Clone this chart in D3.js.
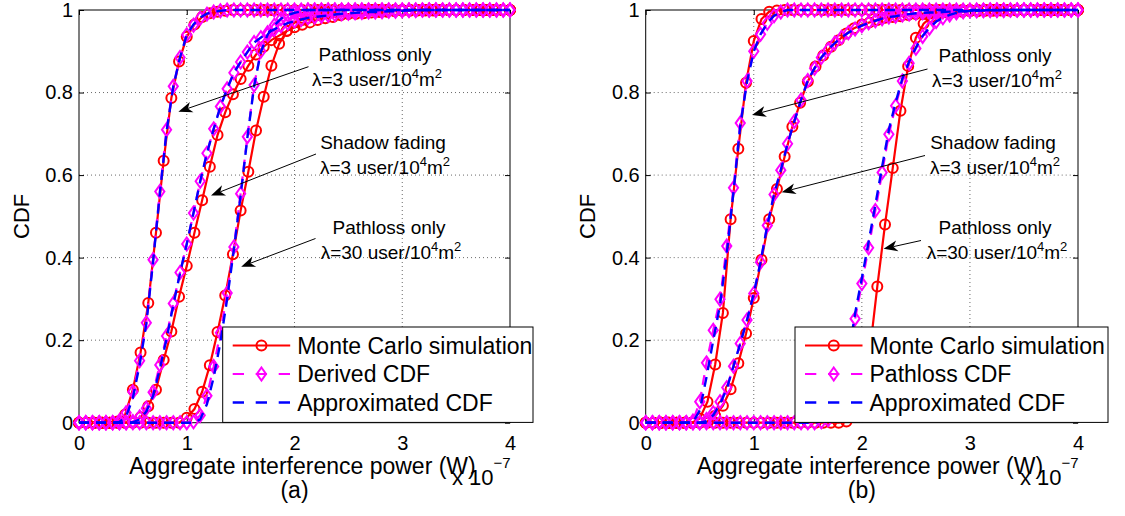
<!DOCTYPE html>
<html>
<head>
<meta charset="utf-8">
<script src="https://cdn.jsdelivr.net/npm/d3@7"></script>
<style>
  html, body { margin: 0; padding: 0; background: #fff; }
  svg { display: block; font-family: "Liberation Sans", Arial, Helvetica, sans-serif; }
</style>
</head>
<body>
<svg id="fig" width="1125" height="516"></svg>
<script>
// ---- sample grids (aggregate interference power, units of 1e-7 W) ----
const xSim = [0,0.0714,0.1429,0.2143,0.2857,0.3571,0.4286,0.5,0.5714,0.6429,0.7143,0.7857,0.8571,0.9286,
  1,1.0714,1.1429,1.2143,1.2857,1.3571,1.4286,1.5,1.5714,1.6429,1.7143,1.7857,1.8571,1.9286,
  2,2.0714,2.1429,2.2143,2.2857,2.3571,2.4286,2.5,2.5714,2.6429,2.7143,2.7857,2.8571,2.9286,
  3,3.0714,3.1429,3.2143,3.2857,3.3571,3.4286,3.5,3.5714,3.6429,3.7143,3.7857,3.8571,3.9286,4];
const xCdf = [0,0.0625,0.125,0.1875,0.25,0.3125,0.375,0.4375,0.5,0.5625,0.625,0.6875,0.75,0.8125,0.875,0.9375,
  1,1.0625,1.125,1.1875,1.25,1.3125,1.375,1.4375,1.5,1.5625,1.625,1.6875,1.75,1.8125,1.875,1.9375,
  2,2.0625,2.125,2.1875,2.25,2.3125,2.375,2.4375,2.5,2.5625,2.625,2.6875,2.75,2.8125,2.875,2.9375,
  3,3.0625,3.125,3.1875,3.25,3.3125,3.375,3.4375,3.5,3.5625,3.625,3.6875,3.75,3.8125,3.875,3.9375,4];

// ---- panel (a): Monte Carlo simulation (on xSim) ----
const aSimPath3 = [0,0,0,0,0,0.003,0.02,0.08,0.17,0.29,0.46,0.635,0.787,0.875,0.935,0.965,0.983,0.992,0.996,0.998,
  1,1,1,1,1,1,1,1,1,1,1,1,1,1,1,1,1,1,1,1,1,1,1,1,1,1,1,1,1,1,1,1,1,1,1,1,1];
const aSimShadow3 = [0,0,0,0,0,0,0,0.002,0.013,0.04,0.08,0.152,0.221,0.305,0.38,0.46,0.539,0.62,0.697,0.752,
  0.796,0.833,0.865,0.892,0.911,0.927,0.938,0.949,0.958,0.964,0.97,0.976,0.98,0.983,0.987,0.99,0.991,0.992,
  0.994,0.995,0.996,0.997,0.998,0.998,0.999,0.999,0.999,1,1,1,1,1,1,1,1,1,1];
const aSimPath30 = [0,0,0,0,0,0,0,0,0,0,0,0,0,0,0.012,0.033,0.075,0.139,0.22,0.308,0.408,0.514,0.608,0.708,
  0.79,0.865,0.918,0.95,0.97,0.981,0.988,0.993,0.996,0.999,1,1,1,1,1,1,1,1,1,1,1,1,1,1,1,1,1,1,1,1,1,1,1];

// ---- panel (a): derived CDF (on xCdf) ----
const aDerPath3 = [0,0,0,0,0,0,0.005,0.024,0.075,0.15,0.242,0.395,0.56,0.71,0.815,0.885,0.94,0.963,0.98,0.99,
  0.995,0.998,1,1,1,1,1,1,1,1,1,1,1,1,1,1,1,1,1,1,1,1,1,1,1,1,1,1,1,1,1,1,1,1,1,1,1,1,1,1,1,1,1,1,1];
const aDerShadow3 = [0,0,0,0,0,0,0,0,0.003,0.014,0.035,0.074,0.14,0.21,0.289,0.364,0.433,0.508,0.585,0.653,
  0.712,0.766,0.809,0.848,0.874,0.898,0.921,0.933,0.945,0.953,0.962,0.968,0.973,0.977,0.981,0.983,0.985,
  0.987,0.989,0.991,0.992,0.993,0.994,0.995,0.995,0.996,0.997,0.997,0.998,0.999,0.999,
  1,1,1,1,1,1,1,1,1,1,1,1,1,1];
const aDerPath30 = [0,0,0,0,0,0,0,0,0,0,0,0,0,0,0,0,0,0.002,0.018,0.065,0.136,0.218,0.314,0.426,0.555,
  0.693,0.818,0.9,0.94,0.963,0.979,0.988,0.993,0.997,1,1,1,1,1,1,1,1,1,1,1,1,1,1,1,1,1,1,1,1,1,1,1,1,1,1,1,1,1,1,1];

// ---- panel (a): approximated CDF (on xCdf) ----
const aApxPath3 = [0,0,0,0,0,0,0.002,0.015,0.06,0.14,0.24,0.39,0.555,0.705,0.815,0.885,0.94,0.965,0.982,0.991,
  0.996,0.998,1,1,1,1,1,1,1,1,1,1,1,1,1,1,1,1,1,1,1,1,1,1,1,1,1,1,1,1,1,1,1,1,1,1,1,1,1,1,1,1,1,1,1];
const aApxShadow3 = [0,0,0,0,0,0,0,0,0.001,0.008,0.027,0.065,0.13,0.203,0.285,0.362,0.433,0.508,0.585,0.653,
  0.712,0.766,0.809,0.848,0.874,0.898,0.921,0.933,0.945,0.953,0.962,0.968,0.973,0.977,0.981,0.983,0.985,
  0.987,0.989,0.991,0.992,0.993,0.994,0.995,0.995,0.996,0.997,0.997,0.998,0.999,0.999,
  1,1,1,1,1,1,1,1,1,1,1,1,1,1];
const aApxPath30 = [0,0,0,0,0,0,0,0,0,0,0,0,0,0,0,0,0,0,0.008,0.045,0.11,0.195,0.3,0.42,0.55,
  0.69,0.815,0.898,0.94,0.963,0.979,0.988,0.993,0.997,1,1,1,1,1,1,1,1,1,1,1,1,1,1,1,1,1,1,1,1,1,1,1,1,1,1,1,1,1,1,1];

// ---- panel (b): Monte Carlo simulation (on xSim) ----
const bSimPath3 = [0,0,0,0,0,0,0,0.01,0.051,0.141,0.266,0.493,0.664,0.824,0.925,0.978,0.996,0.999,
  1,1,1,1,1,1,1,1,1,1,1,1,1,1,1,1,1,1,1,1,1,1,1,1,1,1,1,1,1,1,1,1,1,1,1,1,1,1,1];
const bSimShadow3 = [0,0,0,0,0,0,0,0,0.003,0.017,0.041,0.081,0.144,0.216,0.302,0.395,0.493,0.566,0.645,0.717,
  0.775,0.827,0.863,0.89,0.911,0.927,0.943,0.956,0.965,0.97,0.976,0.981,0.983,0.985,0.988,0.99,0.991,0.992,
  0.993,0.994,0.995,0.996,0.997,0.997,0.998,0.998,0.999,0.999,0.999,1,1,1,1,1,1,1,1];
const bSimPath30 = [0,0,0,0,0,0,0,0,0,0,0,0,0,0,0,0,0,0,0,0,0,0,0,0,0,0,0.003,0.018,0.07,0.168,0.33,0.48,
  0.617,0.756,0.864,0.933,0.967,0.983,0.993,0.996,0.998,0.999,1,1,1,1,1,1,1,1,1,1,1,1,1,1,1];

// ---- panel (b): pathloss CDF (on xCdf) ----
const bPlPath3 = [0,0,0,0,0,0,0,0.004,0.051,0.145,0.224,0.299,0.428,0.569,0.726,0.828,0.9,0.941,0.968,0.986,0.995,
  1,1,1,1,1,1,1,1,1,1,1,1,1,1,1,1,1,1,1,1,1,1,1,1,1,1,1,1,1,1,1,1,1,1,1,1,1,1,1,1,1,1,1,1];
const bPlShadow3 = [0,0,0,0,0,0,0,0,0,0.008,0.024,0.051,0.085,0.137,0.192,0.249,0.313,0.389,0.478,0.553,0.612,
  0.676,0.73,0.782,0.829,0.859,0.885,0.904,0.92,0.934,0.945,0.954,0.962,0.969,0.974,0.979,0.983,0.985,0.988,
  0.99,0.992,0.993,0.994,0.994,0.995,0.996,0.996,0.997,0.998,0.998,0.999,0.999,0.999,0.999,
  1,1,1,1,1,1,1,1,1,1,1];
const bPlPath30 = [0,0,0,0,0,0,0,0,0,0,0,0,0,0,0,0,0,0,0,0,0,0,0,0,0,0,0.002,0.007,0.028,0.068,0.144,0.252,
  0.337,0.424,0.514,0.606,0.699,0.768,0.828,0.871,0.907,0.936,0.956,0.972,0.981,0.988,0.993,0.996,0.998,
  0.999,0.999,1,1,1,1,1,1,1,1,1,1,1,1,1,1];

// ---- panel (b): approximated CDF (on xCdf) ----
const bApxPath3 = [0,0,0,0,0,0,0,0.001,0.03,0.11,0.2,0.285,0.41,0.56,0.72,0.826,0.9,0.941,0.968,0.986,0.995,
  1,1,1,1,1,1,1,1,1,1,1,1,1,1,1,1,1,1,1,1,1,1,1,1,1,1,1,1,1,1,1,1,1,1,1,1,1,1,1,1,1,1,1,1];
const bApxShadow3 = [0,0,0,0,0,0,0,0,0,0.004,0.018,0.045,0.082,0.137,0.192,0.249,0.313,0.389,0.478,0.553,0.612,
  0.676,0.73,0.782,0.829,0.859,0.885,0.904,0.92,0.934,0.945,0.954,0.962,0.969,0.974,0.979,0.983,0.985,0.988,
  0.99,0.992,0.993,0.994,0.994,0.995,0.996,0.996,0.997,0.998,0.998,0.999,0.999,0.999,0.999,
  1,1,1,1,1,1,1,1,1,1,1];
const bApxPath30 = [0,0,0,0,0,0,0,0,0,0,0,0,0,0,0,0,0,0,0,0,0,0,0,0,0,0,0.003,0.01,0.035,0.08,0.16,0.265,
  0.35,0.438,0.528,0.62,0.71,0.776,0.834,0.875,0.909,0.937,0.957,0.972,0.981,0.988,0.993,0.996,0.998,
  0.999,0.999,1,1,1,1,1,1,1,1,1,1,1,1,1,1];

// ---- ticks and text ----
const xTicks = [0, 1, 2, 3, 4];
const yTicks = [0, 0.2, 0.4, 0.6, 0.8, 1];
const xTitle = "Aggregate interference power (W)";
const yTitle = "CDF";
const legendA = ["Monte Carlo simulation", "Derived CDF", "Approximated CDF"];
const legendB = ["Monte Carlo simulation", "Pathloss CDF", "Approximated CDF"];
const noteHeads = ["Pathloss only", "Shadow fading", "Pathloss only"];
const noteDensity = ["3", "3", "30"];

// ---- layout ----
const RED = "#ff0000", MAG = "#ff00ff", BLUE = "#0000ff";
const panels = [
  { tag: "(a)", left: 79, right: 510, legend: legendA, legendBox: [222.7, 533],
    sim: [aSimPath3, aSimShadow3, aSimPath30], der: [aDerPath3, aDerShadow3, aDerPath30],
    apx: [aApxPath3, aApxShadow3, aApxPath30],
    notes: [
      { cx: 375, y: 61, from: [308.5, 66.7], to: [178.4, 111.7] },
      { cx: 383, y: 149, from: [316, 154], to: [211, 195.5] },
      { cx: 389, y: 234, from: [315.5, 238.5], to: [241.2, 266.7] } ] },
  { tag: "(b)", left: 645.7, right: 1078, legend: legendB, legendBox: [795, 1108],
    sim: [bSimPath3, bSimShadow3, bSimPath30], der: [bPlPath3, bPlShadow3, bPlPath30],
    apx: [bApxPath3, bApxShadow3, bApxPath30],
    notes: [
      { cx: 995, y: 62, from: [927.5, 69], to: [752, 115] },
      { cx: 993, y: 149, from: [925, 155.5], to: [781.7, 192.2] },
      { cx: 995, y: 234, from: [921, 240.5], to: [883.6, 248.8] } ] }
];
const TOP = 10, BOTTOM = 422.7;

const svg = d3.select("#fig");
const diamondPath = "M0,-6.5L4.6,0L0,6.5L-4.6,0Z";
const CIRCLE_R = 5;

panels.forEach(p => {
  const g = svg.append("g");
  const x = d3.scaleLinear().domain([0, 4]).range([p.left, p.right]);
  const y = d3.scaleLinear().domain([0, 1]).range([BOTTOM, TOP]);

  // dotted grid
  const grid = g.append("g").attr("stroke", "#444").attr("stroke-width", 0.8)
    .attr("stroke-dasharray", "1,3");
  xTicks.slice(1, -1).forEach(t => grid.append("line")
    .attr("x1", x(t)).attr("x2", x(t)).attr("y1", TOP).attr("y2", BOTTOM));
  yTicks.slice(1, -1).forEach(t => grid.append("line")
    .attr("x1", p.left).attr("x2", p.right).attr("y1", y(t)).attr("y2", y(t)));

  // axes with inward ticks
  const fmt = d => String(d);
  const styleAxis = sel => {
    sel.select(".domain").remove();
    sel.selectAll("line").attr("stroke", "#000");
    sel.selectAll("text").attr("fill", "#000").attr("font-size", 20)
      .attr("font-family", "Liberation Sans, Arial, sans-serif");
  };
  g.append("g").attr("transform", `translate(0,${BOTTOM})`)
    .call(d3.axisBottom(x).tickValues(xTicks).tickFormat(fmt).tickSizeInner(-5).tickSizeOuter(0).tickPadding(13))
    .call(styleAxis);
  g.append("g").attr("transform", `translate(${p.left},0)`)
    .call(d3.axisLeft(y).tickValues(yTicks).tickFormat(fmt).tickSizeInner(-5).tickSizeOuter(0).tickPadding(6))
    .call(styleAxis);
  g.append("g").attr("transform", `translate(0,${TOP})`)
    .call(d3.axisTop(x).tickValues(xTicks).tickFormat("").tickSizeInner(-5).tickSizeOuter(0))
    .call(styleAxis);
  g.append("g").attr("transform", `translate(${p.right},0)`)
    .call(d3.axisRight(y).tickValues(yTicks).tickFormat("").tickSizeInner(-5).tickSizeOuter(0))
    .call(styleAxis);
  g.append("rect").attr("x", p.left).attr("y", TOP).attr("width", p.right - p.left)
    .attr("height", BOTTOM - TOP).attr("fill", "none").attr("stroke", "#000").attr("stroke-width", 1);

  const line = d3.line().x(d => x(d[0])).y(d => y(d[1]));

  // Monte Carlo curves: solid red with circles
  p.sim.forEach(ys => {
    const pts = d3.zip(xSim, ys);
    g.append("path").attr("d", line(pts)).attr("fill", "none")
      .attr("stroke", RED).attr("stroke-width", 2.2);
    g.append("g").selectAll("circle").data(pts).join("circle")
      .attr("cx", d => x(d[0])).attr("cy", d => y(d[1])).attr("r", CIRCLE_R)
      .attr("fill", "none").attr("stroke", RED).attr("stroke-width", 2);
  });
  // derived / pathloss CDF: dashed magenta with diamonds
  p.der.forEach(ys => {
    const pts = d3.zip(xCdf, ys);
    g.append("path").attr("d", line(pts)).attr("fill", "none")
      .attr("stroke", MAG).attr("stroke-width", 2.2).attr("stroke-dasharray", "10,7");
    g.append("g").selectAll("path").data(pts).join("path")
      .attr("d", diamondPath).attr("transform", d => `translate(${x(d[0])},${y(d[1])})`)
      .attr("fill", "none").attr("stroke", MAG).attr("stroke-width", 2);
  });
  // approximated CDF: dashed blue
  p.apx.forEach(ys => {
    const pts = d3.zip(xCdf, ys);
    g.append("path").attr("d", line(pts)).attr("fill", "none")
      .attr("stroke", BLUE).attr("stroke-width", 2.4).attr("stroke-dasharray", "10,7");
  });

  // annotations with arrows
  p.notes.forEach((n, i) => {
    g.append("text").attr("x", n.cx).attr("y", n.y).attr("text-anchor", "middle")
      .attr("font-size", 19).text(noteHeads[i]);
    const t = g.append("text").attr("x", n.cx + 2).attr("y", n.y + 24.5)
      .attr("text-anchor", "middle").attr("font-size", 19);
    t.append("tspan").text(`\u03bb=${noteDensity[i]} user/10`);
    t.append("tspan").attr("dy", -8).attr("font-size", 13).text("4");
    t.append("tspan").attr("dy", 8).text("m");
    t.append("tspan").attr("dy", -8).attr("font-size", 13).text("2");

    const [x0, y0] = n.from, [x1, y1] = n.to;
    const dx = x1 - x0, dy = y1 - y0, len = Math.hypot(dx, dy);
    const ux = dx / len, uy = dy / len, nx = -uy, ny = ux;
    const L = 14, W = 5.5, notch = 4;
    g.append("line").attr("x1", x0).attr("y1", y0)
      .attr("x2", x1 - ux * (L - notch)).attr("y2", y1 - uy * (L - notch))
      .attr("stroke", "#000").attr("stroke-width", 1);
    const head = [[x1, y1], [x1 - ux * L + nx * W, y1 - uy * L + ny * W],
      [x1 - ux * (L - notch), y1 - uy * (L - notch)], [x1 - ux * L - nx * W, y1 - uy * L - ny * W]];
    g.append("path").attr("d", "M" + head.map(q => q.join(",")).join("L") + "Z").attr("fill", "#000");
  });

  // legend
  const [lx0, lx1] = p.legendBox;
  const lg = g.append("g");
  lg.append("rect").attr("x", lx0).attr("y", 327).attr("width", lx1 - lx0).attr("height", BOTTOM - 0.3 - 327)
    .attr("fill", "#fff").attr("stroke", "#000").attr("stroke-width", 1);
  const sx0 = lx0 + 10, sx1 = lx0 + 67.5, sm = (sx0 + sx1) / 2;
  const rows = [345.5, 374, 402.5];
  lg.append("line").attr("x1", sx0).attr("x2", sx1).attr("y1", rows[0]).attr("y2", rows[0])
    .attr("stroke", RED).attr("stroke-width", 2.2);
  lg.append("circle").attr("cx", sm).attr("cy", rows[0]).attr("r", CIRCLE_R)
    .attr("fill", "none").attr("stroke", RED).attr("stroke-width", 2);
  lg.append("line").attr("x1", sx0).attr("x2", sx1).attr("y1", rows[1]).attr("y2", rows[1])
    .attr("stroke", MAG).attr("stroke-width", 2.2).attr("stroke-dasharray", "11.3,11.7");
  lg.append("path").attr("d", diamondPath).attr("transform", `translate(${sm},${rows[1]})`)
    .attr("fill", "none").attr("stroke", MAG).attr("stroke-width", 2);
  lg.append("line").attr("x1", sx0).attr("x2", sx1).attr("y1", rows[2]).attr("y2", rows[2])
    .attr("stroke", BLUE).attr("stroke-width", 2.4).attr("stroke-dasharray", "11.3,11.7");
  p.legend.forEach((s, i) => lg.append("text").attr("x", lx0 + 74.5).attr("y", rows[i] + 8)
    .attr("font-size", 23).text(s));

  // axis titles
  const mid = (p.left + p.right) / 2;
  g.append("text").attr("x", mid + 8).attr("y", 474).attr("text-anchor", "middle")
    .attr("font-size", 23).text(xTitle);
  g.append("text").attr("x", mid).attr("y", 498).attr("text-anchor", "middle")
    .attr("font-size", 23).text(p.tag);
  const ex = g.append("text").attr("x", p.right - 58).attr("y", 485).attr("font-size", 22);
  ex.append("tspan").text("x 10");
  ex.append("tspan").attr("dy", -17).attr("font-size", 15).text("\u22127");
  g.append("text").attr("transform", `translate(${p.left - 58},${(TOP + BOTTOM) / 2}) rotate(-90)`)
    .attr("text-anchor", "middle").attr("dy", "0.35em").attr("font-size", 22).text(yTitle);
});
</script>
</body>
</html>
